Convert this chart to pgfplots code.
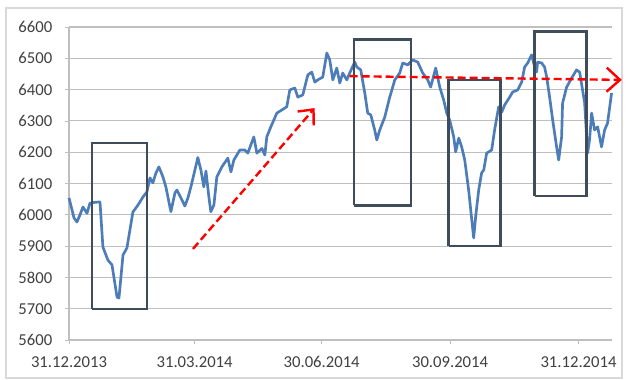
\documentclass[border=0pt]{standalone}
\usepackage{pgfplots}
\pgfplotsset{compat=1.18}
\usepackage{fontspec}
\setmainfont{Carlito}
\usetikzlibrary{arrows.meta}

\definecolor{lineblue}{HTML}{4D7DB8}
\definecolor{boxgray}{HTML}{3E4C5C}
\definecolor{gridgray}{HTML}{BFBFBF}
\definecolor{labelgray}{HTML}{404040}
\definecolor{framegray}{HTML}{D9D9D9}

\begin{document}
\begin{tikzpicture}
% overall canvas and chart-area frame
\path (-51.75pt,-29.25pt) rectangle (418.5pt,255pt);
\draw[framegray, line width=0.8pt] (-47.25pt,-28.5pt) rectangle (414.75pt,249pt);

\begin{axis}[
  at={(0,0)}, anchor=south west,
  scale only axis,
  width=407.25pt, height=234.75pt,
  xmin=0, xmax=389,
  ymin=5600, ymax=6600,
  ytick={5600,5700,...,6600},
  xtick={0,90,181,273,365},
  xticklabels={31.12.2013,31.03.2014,30.06.2014,30.09.2014,31.12.2014},
  axis x line*=bottom,
  axis y line*=left,
  x axis line style={gridgray, line width=1pt},
  y axis line style={gridgray, line width=0.8pt},
  ymajorgrids,
  grid style={gridgray, line width=0.8pt},
  tick align=outside,
  major tick length=3pt,
  tick style={gridgray, line width=0.6pt},
  ticklabel style={font=\fontsize{12.5}{14}\selectfont, text=labelgray},
  /pgf/number format/assume math mode=true,
  /pgf/number format/1000 sep={},
  yticklabel style={xshift=-6pt},
  xticklabel style={yshift=-6pt},
  clip=false,
]

% index series
\addplot[lineblue, line width=2pt, line join=round] coordinates {
(0,6054) (3.6,5990) (5.7,5977) (7.9,6000) (10,6025) (12.9,6005) (15,6037)
(18.6,6040) (22.2,6041) (24.3,5897) (27.9,5855) (30.8,5840) (34.4,5737)
(35.8,5734) (38.7,5872) (41.5,5894) (45.8,6009) (49.4,6031) (53,6057)
(55.8,6073) (58,6118) (60.1,6102) (62.3,6134) (64.4,6153) (67.3,6121)
(69.4,6089) (73,6010) (75.9,6070) (77.3,6079) (80.2,6054) (83,6028)
(85.2,6054) (87.3,6089) (90.2,6143) (92.3,6183) (94.5,6143) (96.6,6089)
(98.1,6140) (100.2,6057) (101.6,6010) (103.8,6031) (105.9,6121) (109.5,6153)
(113.8,6181) (116,6137) (118.1,6175) (122.4,6207) (126,6207) (128.1,6197)
(132.4,6249) (134.6,6197) (138.2,6212) (140.3,6191) (141.7,6249) (144.6,6281)
(148.9,6325) (152.5,6335) (156,6345) (158.2,6399) (161.8,6405) (163.9,6376)
(167.5,6383) (171.1,6447) (173.9,6456) (176.1,6424) (178.2,6431) (181.8,6440)
(184.7,6517) (186.8,6495) (189,6431) (191.8,6469) (194,6421) (196.1,6453)
(199,6431) (201.1,6453) (204.7,6488) (206.2,6472) (209,6463) (211.9,6389)
(214,6325) (216.2,6319) (219,6271) (220.5,6239) (222.6,6271) (226.2,6312)
(229.8,6376) (233.4,6431) (236.9,6453) (239.1,6485) (242.7,6479) (246.2,6495)
(249.8,6488) (253.4,6453) (257,6431) (259.1,6408) (262.7,6469) (265.6,6408)
(268.4,6367) (270.6,6325) (272.7,6303) (275.6,6249) (277,6201) (279.2,6245)
(281.3,6217) (283.5,6175) (286.3,6079) (287.8,6015) (289.9,5926) (291.3,5993)
(293.5,6079) (295.6,6134) (297.1,6143) (299.2,6197) (302.8,6207) (304.9,6271)
(307.8,6345) (310,6328) (312.1,6351) (315.7,6376) (317.8,6392) (321.4,6399)
(324.3,6424) (326.4,6472) (328.6,6485) (331.4,6511) (333.6,6472) (335,6456)
(335.7,6488) (338.6,6485) (340.7,6472) (342.2,6440) (344.3,6376) (346.5,6303)
(349.3,6217) (350.8,6175) (352.9,6249) (353.6,6357) (356.5,6408) (360.1,6437)
(363.6,6463) (365.8,6456) (367.9,6399) (369.4,6357) (371.5,6197) (372.9,6239)
(374.4,6325) (376.5,6271) (378.7,6281) (381.5,6217) (383.7,6271) (385.8,6293)
(388.7,6389)
};

% highlighted correction phases
\addplot[boxgray, line width=1.8pt] coordinates {(16.5,5700) (55.8,5700) (55.8,6230) (16.5,6230) (16.5,5700)};
\addplot[boxgray, line width=1.8pt] coordinates {(204,6030) (244.8,6030) (244.8,6560) (204,6560) (204,6030)};
\addplot[boxgray, line width=1.8pt] coordinates {(272,5900) (309.2,5900) (309.2,6430) (272,6430) (272,5900)};
\addplot[boxgray, line width=1.8pt] coordinates {(333.6,6060) (370.8,6060) (370.8,6585) (333.6,6585) (333.6,6060)};

% trend arrows
\addplot[red, line width=1.8pt, dash pattern=on 6pt off 3pt,
  -{Straight Barb[length=9pt,width=16pt,line width=1.8pt]}]
  coordinates {(88.8,5891) (176,6341)};
\addplot[red, line width=1.8pt, dash pattern=on 6pt off 3pt,
  -{Straight Barb[length=10pt,width=18pt,line width=1.8pt]}]
  coordinates {(201,6443) (396,6431)};
\end{axis}
\end{tikzpicture}
\end{document}
